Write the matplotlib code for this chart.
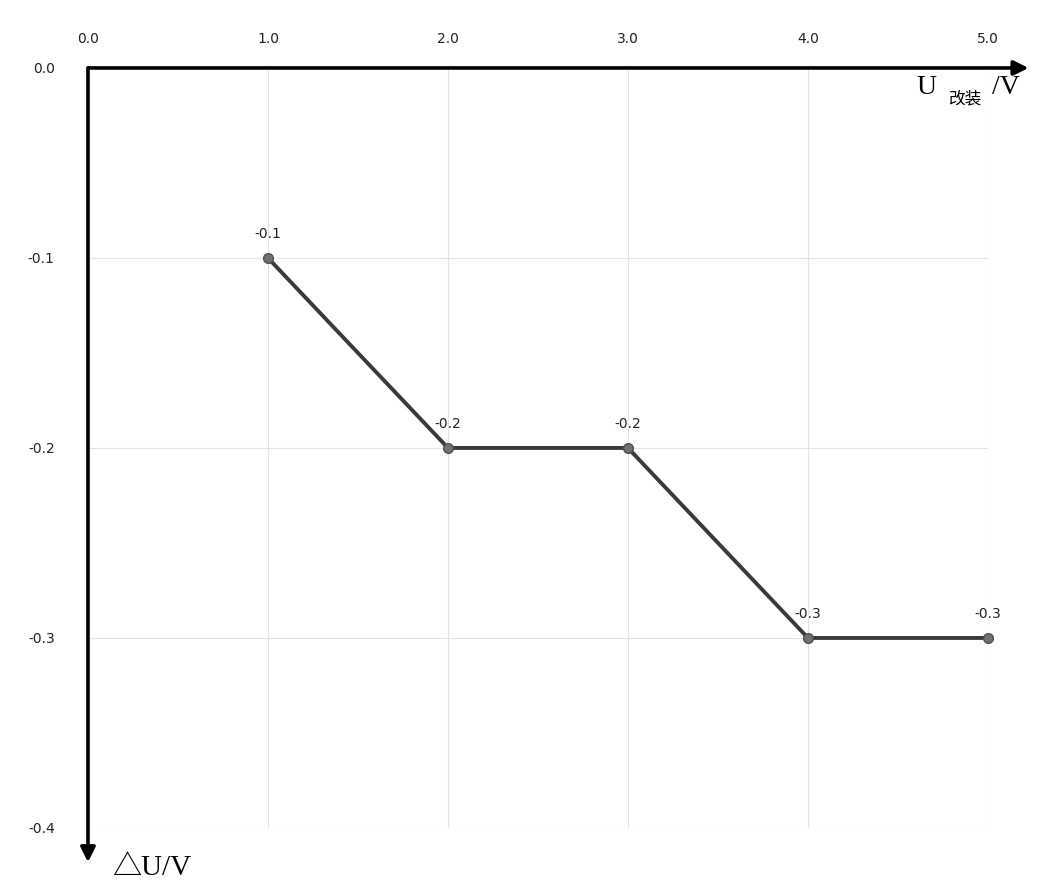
import matplotlib.pyplot as plt

# data
u_mod = [1.0, 2.0, 3.0, 4.0, 5.0]
delta_u = [-0.1, -0.2, -0.2, -0.3, -0.3]
x_ticks = [0.0, 1.0, 2.0, 3.0, 4.0, 5.0]
y_ticks = [0.0, -0.1, -0.2, -0.3, -0.4]

fig = plt.figure(figsize=(10.4, 8.86), dpi=100)
ax = fig.add_axes([0.0846, 0.0655, 0.8654, 0.8578])

ax.set_xlim(0, 5)
ax.set_ylim(-0.4, 0)

# grid
for x in x_ticks[1:]:
    ax.axvline(x, color='#e3e3e3', lw=0.8, zorder=0)
for y in y_ticks[1:]:
    ax.axhline(y, color='#e3e3e3', lw=0.8, zorder=0)

for s in ax.spines.values():
    s.set_visible(False)

ax.xaxis.tick_top()
ax.set_xticks(x_ticks)
ax.set_xticklabels(['%.1f' % v for v in x_ticks])
ax.set_yticks(y_ticks)
ax.set_yticklabels(['%.1f' % v for v in y_ticks])
ax.tick_params(axis='x', length=0, pad=16, labelsize=10, colors='#222222')
ax.tick_params(axis='y', length=0, pad=24, labelsize=10, colors='#222222')

# axis arrows
ax.annotate('', xy=(1.045, 1.0), xytext=(0, 1.0), xycoords='axes fraction',
            arrowprops=dict(arrowstyle='-|>', color='black', lw=2.6,
                            mutation_scale=22, shrinkA=0, shrinkB=0),
            annotation_clip=False)
ax.annotate('', xy=(0, -0.045), xytext=(0, 1.0), xycoords='axes fraction',
            arrowprops=dict(arrowstyle='-|>', color='black', lw=2.6,
                            mutation_scale=22, shrinkA=0, shrinkB=0),
            annotation_clip=False)

# series
ax.plot(u_mod, delta_u, color='#3a3a3a', lw=2.8, marker='o', ms=7,
        markerfacecolor='#707070', markeredgecolor='#505050', clip_on=False, zorder=3)
for x, y in zip(u_mod, delta_u):
    ax.annotate('%.1f' % y, (x, y), xytext=(0, 12), textcoords='offset points',
                ha='center', va='bottom', fontsize=10, color='#222222')

# axis titles
fam = ['Liberation Serif', 'Noto Sans CJK SC', 'DejaVu Sans']
fig.text(916 / 1040, 1 - 88 / 886, 'U', fontsize=20, family=fam, ha='left', va='center')
fig.text(948 / 1040, 1 - 99 / 886, '改装', fontsize=12, family=['Noto Sans CJK SC'],
         ha='left', va='center')
fig.text(992 / 1040, 1 - 88 / 886, '/V', fontsize=20, family=fam, ha='left', va='center')
fig.text(112 / 1040, 1 - 868 / 886, '△U/V', fontsize=21, family=fam, ha='left', va='center')

fig.savefig('out.png', dpi=100, facecolor='white')
